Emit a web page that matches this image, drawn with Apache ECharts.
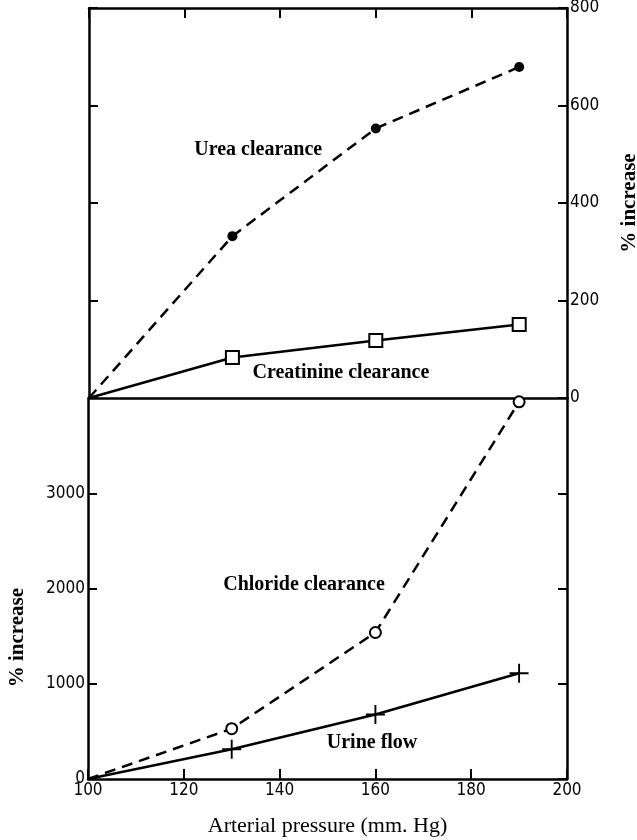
<!DOCTYPE html>
<html>
<head>
<meta charset="utf-8">
<script src="https://cdn.jsdelivr.net/npm/echarts@6/dist/echarts.min.js"></script>
<style>
  html, body { margin: 0; padding: 0; background: #fff; }
  #chart { width: 637px; height: 840px; }
</style>
</head>
<body>
<div id="chart"></div>
<script>
// 数据
const pressure = [100, 130, 160, 190];
const ureaClearance = [0, 332, 553, 679];
const creatinineClearance = [0, 83, 118, 151];
const chlorideClearance = [0, 528, 1538, 3960];
const urineFlow = [0, 312, 677, 1111];

const xTicks = [100, 120, 140, 160, 180, 200];
const topTicks = [0, 200, 400, 600, 800];
const bottomTicks = [0, 1000, 2000, 3000, 4000];

// 曲线旁的文字
const labelNames = ['Urea clearance', 'Creatinine clearance', 'Chloride clearance', 'Urine flow'];
const labelX = [135.4, 152.7, 145.1, 159.3];
const labelY = [509, 51, 2037, 378];
const labelPanel = [0, 0, 1, 1];

const serif = '"Liberation Serif", "DejaVu Serif", serif';
const narrow = '"DejaVu Sans Condensed", "Liberation Sans Narrow", "Liberation Sans", sans-serif';

function pts(ys) {
    return pressure.map((x, i) => ({
        value: [x, ys[i]],
        symbol: i === 0 ? 'none' : undefined
    }));
}

const plusPath = 'path://M-1,-10L1,-10L1,10L-1,10Z M-10,-1L10,-1L10,1L-10,1Z';

var myChart = echarts.init(document.getElementById('chart'));

function xAxisOf(grid, pos, showTick, showLabel) {
    return {
        type: 'value',
        gridIndex: grid,
        position: pos,
        min: xTicks[0],
        max: xTicks[xTicks.length - 1],
        interval: xTicks[1] - xTicks[0],
        axisLine: { show: true, onZero: false, lineStyle: { color: '#000', width: 2.5 } },
        axisTick: { show: showTick, inside: true, length: 10, lineStyle: { color: '#000', width: 2 } },
        axisLabel: { show: showLabel, color: '#000', fontFamily: narrow, fontSize: 17, margin: 3 },
        splitLine: { show: false },
        name: showLabel ? 'Arterial pressure (mm. Hg)' : '',
        nameLocation: 'middle',
        nameGap: 36,
        nameTextStyle: { color: '#000', fontFamily: serif, fontSize: 22 }
    };
}

function yAxisOf(grid, pos, ticks, labelFn, name) {
    return {
        type: 'value',
        gridIndex: grid,
        position: pos,
        min: ticks[0],
        max: ticks[ticks.length - 1],
        interval: ticks[1] - ticks[0],
        axisLine: { show: true, onZero: false, lineStyle: { color: '#000', width: 2.5 } },
        axisTick: { show: true, inside: true, length: 9, lineStyle: { color: '#000', width: 2 } },
        axisLabel: {
            show: !!labelFn,
            color: '#000',
            fontFamily: narrow,
            fontSize: 17,
            margin: 3,
            formatter: labelFn || undefined
        },
        splitLine: { show: false },
        name: name || '',
        nameLocation: 'middle',
        nameRotate: 90,
        nameGap: 52,
        nameTextStyle: { color: '#000', fontFamily: serif, fontSize: 21, fontWeight: 'bold' }
    };
}

function labelSeries(xi, yi, panel) {
    return {
        type: 'scatter',
        xAxisIndex: xi,
        yAxisIndex: yi,
        symbol: 'circle',
        symbolSize: 0,
        itemStyle: { color: '#000' },
        silent: true,
        z: 5,
        data: labelNames
            .map((n, i) => ({ name: n, value: [labelX[i], labelY[i]], p: labelPanel[i] }))
            .filter(d => d.p === panel)
            .map(d => ({ name: d.name, value: d.value })),
        label: {
            show: true,
            position: 'inside',
            formatter: '{b}',
            color: '#000',
            opacity: 1,
            fontFamily: serif,
            fontWeight: 'bold',
            fontSize: 20
        }
    };
}

let option = {
    backgroundColor: '#fff',
    animation: false,
    grid: [
        { left: 89, right: 70, top: 8, height: 390, outerBoundsMode: 'none', containLabel: false, show: false },
        { left: 88, right: 70, top: 398, bottom: 61, outerBoundsMode: 'none', containLabel: false, show: false }
    ],
    xAxis: [
        xAxisOf(0, 'top', true, false),
        xAxisOf(0, 'bottom', false, false),
        xAxisOf(1, 'bottom', true, true)
    ],
    yAxis: [
        yAxisOf(0, 'right', topTicks, v => String(v), '% increase'),
        yAxisOf(0, 'left', topTicks, null),
        yAxisOf(1, 'left', bottomTicks, v => (v === 4000 ? '' : String(v))),
        yAxisOf(1, 'right', bottomTicks, null)
    ],
    graphic: [
        {
            type: 'text',
            left: 7,
            top: 588,
            rotation: Math.PI / 2,
            style: {
                text: '% increase',
                font: 'bold 21px ' + serif,
                fill: '#000'
            }
        }
    ],
    series: [
        {
            name: 'Urea clearance',
            type: 'line',
            xAxisIndex: 0,
            yAxisIndex: 0,
            data: pts(ureaClearance),
            symbol: 'circle',
            symbolSize: 10,
            itemStyle: { color: '#000' },
            lineStyle: { color: '#000', width: 2.5, type: [11, 7] }
        },
        {
            name: 'Creatinine clearance',
            type: 'line',
            xAxisIndex: 0,
            yAxisIndex: 0,
            data: pts(creatinineClearance),
            symbol: 'rect',
            symbolSize: 13,
            itemStyle: { color: '#fff', borderColor: '#000', borderWidth: 2 },
            lineStyle: { color: '#000', width: 2.5 },
            z: 3
        },
        {
            name: 'Chloride clearance',
            type: 'line',
            xAxisIndex: 2,
            yAxisIndex: 2,
            data: pts(chlorideClearance),
            symbol: 'circle',
            symbolSize: 11,
            itemStyle: { color: '#fff', borderColor: '#000', borderWidth: 2 },
            lineStyle: { color: '#000', width: 2.5, type: [11, 7] },
            z: 3
        },
        {
            name: 'Urine flow',
            type: 'line',
            xAxisIndex: 2,
            yAxisIndex: 2,
            data: pts(urineFlow),
            symbol: plusPath,
            symbolSize: 19,
            itemStyle: { color: '#000' },
            lineStyle: { color: '#000', width: 2.5 }
        },
        labelSeries(0, 0, 0),
        labelSeries(2, 2, 1)
    ]
};

myChart.setOption(option);
window.addEventListener('resize', function () {
    myChart.resize();
});
</script>
</body>
</html>
